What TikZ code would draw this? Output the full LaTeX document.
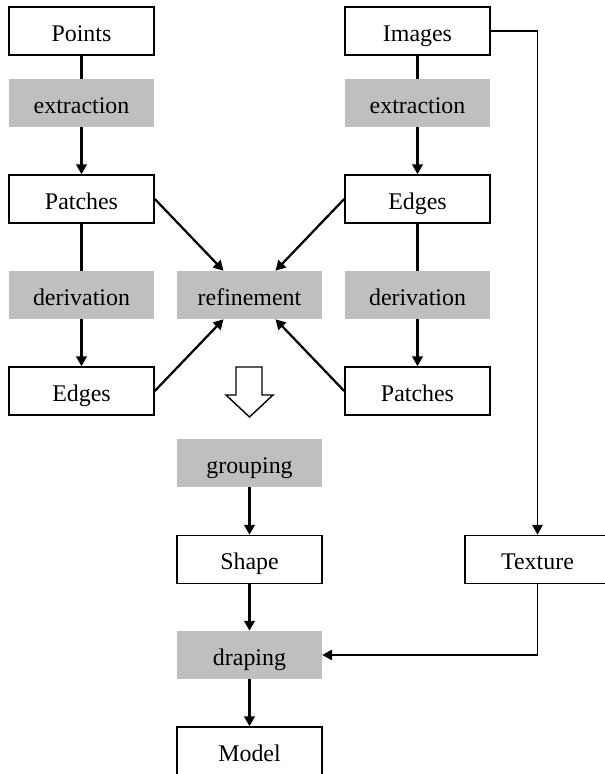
\documentclass[tikz,border=0pt]{standalone}
\usepackage{fontspec}
\setmainfont{Liberation Serif}
\usetikzlibrary{arrows.meta}
\usetikzlibrary{calc,positioning}

\definecolor{stepgray}{RGB}{191,191,191}

\tikzset{
    databox/.style={draw, line width=1.1pt, fill=white, minimum width=3.625cm, minimum height=1.2cm, inner sep=0pt, text height=14.5pt, text depth=0pt},
    stepbox/.style={fill=stepgray, minimum width=3.625cm, minimum height=1.2cm, inner sep=0pt, text height=14.5pt, text depth=0pt},
    flow/.style={line width=1.6pt},
    feed/.style={line width=0.9pt},
}

\begin{document}
\begin{tikzpicture}[>={Triangle[length=7pt,width=7.5pt]}, x=0.025cm, y=-0.025cm, font=\fontsize{17}{20}\selectfont]

    \useasboundingbox (0,0) rectangle (604,774);

    % point-cloud branch
    \node[databox] (points)   at (81.5,31)  {Points};
    \node[stepbox] (extrL)    at (81.5,103) {extraction};
    \node[databox] (patchesL) at (81.5,199) {Patches};
    \node[stepbox] (derivL)   at (81.5,295) {derivation};
    \node[databox] (edgesL)   at (81.5,391) {Edges};

    % image branch
    \node[databox] (images)   at (417.5,31)  {Images};
    \node[stepbox] (extrR)    at (417.5,103) {extraction};
    \node[databox] (edgesR)   at (417.5,199) {Edges};
    \node[stepbox] (derivR)   at (417.5,295) {derivation};
    \node[databox] (patchesR) at (417.5,391) {Patches};

    \node[stepbox] (refine)   at (249.5,295) {refinement};

    % lower part
    \node[stepbox] (grouping) at (249.5,463)   {grouping};
    \node[databox] (shape)    at (249.5,559.5) {Shape};
    \node[stepbox] (draping)  at (249.5,655)   {draping};
    \node[databox] (model)    at (249.5,751)   {Model};
    \node[databox] (texture)  at (537.5,559.5) {Texture};

    \draw[flow] (points) -- (extrL);
    \draw[flow, ->] (extrL) -- (patchesL);
    \draw[flow] (patchesL) -- (derivL);
    \draw[flow, ->] (derivL) -- (edgesL);

    \draw[flow] (images) -- (extrR);
    \draw[flow, ->] (extrR) -- (edgesR);
    \draw[flow] (edgesR) -- (derivR);
    \draw[flow, ->] (derivR) -- (patchesR);

    \draw[flow, ->] (patchesL.east) -- (refine.137);
    \draw[flow, ->] (edgesR.west) -- (refine.43);
    \draw[flow, ->] (edgesL.east) -- (refine.-137);
    \draw[flow, ->] (patchesR.west) -- (refine.-43);

    % hollow arrow
    \draw[line width=1pt, fill=white] (236,367) -- (262,367) -- (262,395) -- (273,395)
        -- (249.5,417) -- (226,395) -- (236,395) -- cycle;

    \draw[flow, ->] (grouping) -- (shape);
    \draw[flow, ->] (shape) -- (draping);
    \draw[flow, ->] (draping) -- (model);

    \draw[feed, ->] (images.east) -| (texture.north);
    \draw[feed, ->] (texture.south) |- (draping.east);

\end{tikzpicture}
\end{document}
